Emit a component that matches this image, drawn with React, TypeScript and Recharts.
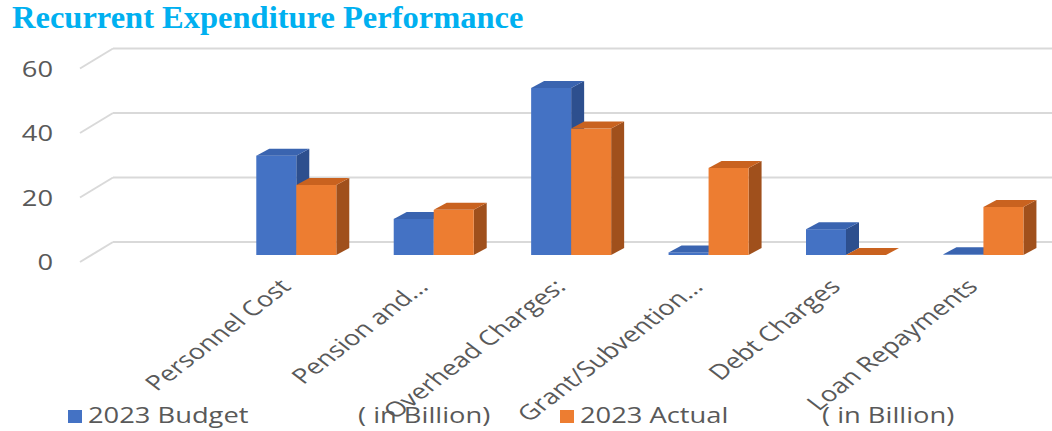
import React from "react";
import { BarChart, Bar, XAxis, YAxis, CartesianGrid, Legend } from "recharts";

const CATEGORIES = [
  "",
  "Personnel Cost",
  "Pension and...",
  "Overhead Charges:",
  "Grant/Subvention...",
  "Debt Charges",
  "Loan Repayments",
];
const BUDGET = [null, 30.8, 11.2, 51.8, 0.8, 8, 0.2];
const ACTUAL = [null, 21.7, 14, 39.2, 27, 0, 14.9];
const Y_TICKS = [0, 20, 40, 60];
const SERIES_NAMES = ["2023 Budget ( in Billion)", "2023 Actual ( in Billion)"];

const BLUE = "#4472C4";
const ORANGE = "#ED7D31";
const SHADES: Record<string, { top: string; side: string }> = {
  [BLUE]: { top: "#3A64B0", side: "#2D4F8E" },
  [ORANGE]: { top: "#C9621F", side: "#A0501C" },
};

const TEXT = "#595959";
const FONT = "'Open Sans', 'DejaVu Sans', sans-serif";
const STRETCH = 1.3;
const DEPTH_X = 13;
const DEPTH_Y = 7;

const chartData = CATEGORIES.map((name, i) => ({
  name,
  budget: BUDGET[i],
  actual: ACTUAL[i],
}));

function Box3D(props: any) {
  const { x, y, width, height, fill, value } = props;
  if (value == null || !Number.isFinite(y) || !Number.isFinite(height)) return null;
  const shade = SHADES[fill];
  const top = `M${x},${y} L${x + DEPTH_X},${y - DEPTH_Y} L${x + width + DEPTH_X},${y - DEPTH_Y} L${x + width},${y} Z`;
  const side = `M${x + width},${y} L${x + width + DEPTH_X},${y - DEPTH_Y} L${x + width + DEPTH_X},${y + height - DEPTH_Y} L${x + width},${y + height} Z`;
  return (
    <g>
      <path d={side} fill={shade.side} />
      <rect x={x} y={y} width={width} height={height} fill={fill} />
      <path d={top} fill={shade.top} />
    </g>
  );
}

function GridLine(props: any) {
  const { x1, x2, y1, index } = props;
  const backX = x1 + 23;
  return (
    <g key={`grid-${index}`}>
      <line x1={x1 - 10} y1={y1 + 7} x2={backX} y2={y1 - 13} stroke="#D9D9D9" strokeWidth={2} />
      <line x1={backX} y1={y1 - 13} x2={x2} y2={y1 - 13} stroke="#D9D9D9" strokeWidth={2} />
    </g>
  );
}

function YTick(props: any) {
  const { x, y, payload } = props;
  return (
    <g transform={`translate(${x - 37},${y + 7}) scale(${STRETCH},1)`}>
      <text textAnchor="end" dominantBaseline="central" fill={TEXT} fontSize={21} fontFamily={FONT}>
        {payload.value}
      </text>
    </g>
  );
}

function XTick(props: any) {
  const { x, y, payload } = props;
  if (!payload.value) return null;
  return (
    <g transform={`translate(${x - 4},${y + 33}) scale(${STRETCH},1) rotate(-45)`}>
      <text textAnchor="end" fill={TEXT} fontSize={21} fontFamily={FONT}>
        {payload.value}
      </text>
    </g>
  );
}

const LEGEND_X = [68, 560];
const SUFFIX_X = [290, 262];

function LegendContent(props: any) {
  const { payload = [] } = props;
  const items = [...payload].sort(
    (a: any, b: any) => SERIES_NAMES.indexOf(a.value) - SERIES_NAMES.indexOf(b.value)
  );
  return (
    <div style={{ position: "relative", width: 1052, height: 36 }}>
      {items.map((entry: any) => {
        const i = SERIES_NAMES.indexOf(entry.value);
        const [label, suffix] = String(entry.value).split(" (");
        const left = LEGEND_X[i];
        return (
          <React.Fragment key={entry.value}>
            <div
              style={{
                position: "absolute",
                left,
                top: 18,
                width: 14,
                height: 13,
                background: entry.color,
              }}
            />
            <div style={textStyle(left + 20)}>{label}</div>
            <div style={textStyle(left + SUFFIX_X[i])}>{"( " + suffix}</div>
          </React.Fragment>
        );
      })}
    </div>
  );
}

function textStyle(left: number): React.CSSProperties {
  return {
    position: "absolute",
    left,
    top: 8,
    fontFamily: FONT,
    fontSize: 21,
    lineHeight: "30px",
    color: TEXT,
    whiteSpace: "nowrap",
    transform: `scaleX(${STRETCH})`,
    transformOrigin: "left center",
  };
}

export default function App() {
  return (
    <div
      style={{
        position: "absolute",
        left: 0,
        top: 0,
        width: 1052,
        height: 431,
        background: "#fff",
        overflow: "hidden",
      }}
    >
      <div
        style={{
          position: "absolute",
          left: 12,
          top: 1,
          fontFamily: "'Liberation Serif', 'Times New Roman', serif",
          fontWeight: "bold",
          fontSize: 32.5,
          lineHeight: "32px",
          color: "#00B0F0",
          whiteSpace: "nowrap",
        }}
      >
        Recurrent Expenditure Performance
      </div>
      <BarChart
        width={1052}
        height={431}
        data={chartData}
        margin={{ top: 61.5, right: 0, bottom: 110, left: 0 }}
        barCategoryGap="21%"
        barGap={0}
      >
        <CartesianGrid vertical={false} horizontal={(p: any) => <GridLine {...p} />} />
        <XAxis
          dataKey="name"
          height={30}
          interval={0}
          axisLine={false}
          tickLine={false}
          tickSize={0}
          tickMargin={0}
          tick={<XTick />}
        />
        <YAxis
          width={90}
          domain={[0, 60]}
          ticks={Y_TICKS}
          axisLine={false}
          tickLine={false}
          tickSize={0}
          tickMargin={0}
          tick={<YTick />}
        />
        <Legend
          verticalAlign="bottom"
          height={36}
          content={<LegendContent />}
          wrapperStyle={{ position: "absolute", left: 0, top: 392, width: 1052, height: 36 }}
        />
        <Bar
          dataKey="budget"
          name={SERIES_NAMES[0]}
          fill={BLUE}
          isAnimationActive={false}
          shape={(p: any) => <Box3D {...p} />}
        />
        <Bar
          dataKey="actual"
          name={SERIES_NAMES[1]}
          fill={ORANGE}
          isAnimationActive={false}
          shape={(p: any) => <Box3D {...p} />}
        />
      </BarChart>
    </div>
  );
}
